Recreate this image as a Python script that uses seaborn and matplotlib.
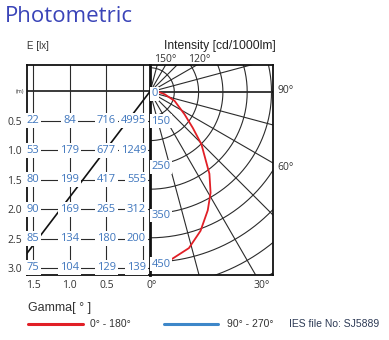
import numpy as np
import pandas as pd
import matplotlib
matplotlib.use("Agg")
import matplotlib.pyplot as plt
from matplotlib.lines import Line2D
import seaborn as sns

# ---------------- data ----------------
dist_m = [0.5, 1.0, 1.5, 2.0, 2.5, 3.0]          # mounting height rows
lateral_m = [1.5, 1.0, 0.5, 0.0]                 # columns
lux_at_1_5 = [22, 53, 80, 90, 85, 75]
lux_at_1_0 = [84, 179, 199, 169, 134, 104]
lux_at_0_5 = [716, 677, 417, 265, 180, 129]
lux_at_0_0 = [4995, 1249, 555, 312, 200, 139]
beam_lateral = [-0.095, 1.60]
beam_height = [0.0, 2.78]

gamma_deg = [0, 7, 14, 20, 26, 31, 36, 39, 44.5, 50, 57, 70, 81, 90]
intensity_c0 = [452, 448, 431, 404, 371, 342, 308, 283, 251, 215, 185, 154, 131, 118]

ring_values = [150, 200, 250, 300, 350, 400, 450, 500, 550, 600]
ring_labels = ["0", "150", "250", "350", "450"]
ring_label_vals = [100, 150, 250, 350, 450]
ray_angles = [15, 30, 45, 60, 75, 90, 105, 120, 135, 150, 165]
r_min = 100
px_per_cd = 0.486

x_tick_labels = ["1.5", "1.0", "0.5"]
row_labels = ["0.5", "1.0", "1.5", "2.0", "2.5", "3.0"]

# ---------------- style ----------------
sns.set_theme(style="white")
plt.rcParams['font.family'] = ['Open Sans', 'DejaVu Sans']

W, H = 389, 340
fig = plt.figure(figsize=(W / 100, H / 100), dpi=100)
fig.patch.set_facecolor("white")


def box(x0, y0, x1, y1):
    return [x0 / W, 1 - y1 / H, (x1 - x0) / W, (y1 - y0) / H]


def fx(x):
    return x / W


def fy(y):
    return 1 - y / H


GRID = "#2b2b2b"
NUM = "#3f76bd"
TXT = "#333333"
RED = "#e11f26"
BLUE = "#3d87c9"

# ---------------- left (illuminance) panel ----------------
axL = fig.add_axes(box(27, 65, 150, 275))
axL.set_xlim(1.582, -0.095)
axL.set_ylim(3.12, -0.45)
axL.set_facecolor("white")
for x in lateral_m:
    axL.axvline(x, color=GRID, lw=0.8, zorder=1)
for y in dist_m:
    axL.axhline(y, color=GRID, lw=0.8, zorder=1)
axL.axhline(0, color=GRID, lw=1.3, zorder=1)

sns.lineplot(x=beam_lateral, y=beam_height, ax=axL, color="#111111", lw=1.2,
             sort=False, estimator=None, zorder=2)

cols = [lux_at_1_5, lux_at_1_0, lux_at_0_5, lux_at_0_0]
bb = dict(boxstyle="square,pad=0.18", fc="white", ec="none")
for ci, (xc, vals) in enumerate(zip(lateral_m, cols)):
    for yv, v in zip(dist_m, vals):
        if ci == 3:
            axL.annotate(str(v), (xc, yv), xytext=(3, 0), textcoords="offset pixels",
                         ha="right", va="center", color=NUM, fontsize=8, bbox=bb, zorder=5)
        else:
            axL.annotate(str(v), (xc, yv), ha="center", va="center", color=NUM,
                         fontsize=8, bbox=bb, zorder=5)

axL.set_xticks(lateral_m[:3])
axL.set_xticklabels(x_tick_labels, fontsize=7.5, color=TXT)
axL.set_yticks(dist_m)
axL.set_yticklabels(row_labels, fontsize=7.5, color=TXT)
axL.tick_params(axis="both", length=0, pad=3.5)
axL.text(-0.02, 0, "(m)", transform=axL.get_yaxis_transform(), ha="right",
         va="center", fontsize=4, color=TXT)
for s in ["left", "top", "bottom"]:
    axL.spines[s].set_color("#111111")
    axL.spines[s].set_linewidth(1.3)
axL.spines["right"].set_visible(False)
axL.set_xlabel("")
axL.set_ylabel("")
if axL.get_legend():
    axL.get_legend().remove()

# ---------------- right (polar intensity) panel ----------------
axP = fig.add_axes(box(150, 65, 273, 275))
axP.set_facecolor("white")

t = np.linspace(0, np.pi, 361)
for rv in ring_values:
    rr = (rv - r_min) * px_per_cd
    sns.lineplot(x=rr * np.sin(t), y=-rr * np.cos(t), ax=axP, color=GRID, lw=0.8,
                 sort=False, estimator=None, zorder=1)
for a in ray_angles:
    g = np.deg2rad(a)
    R = 400
    sns.lineplot(x=[0, R * np.sin(g)], y=[0, -R * np.cos(g)], ax=axP, color=GRID,
                 lw=1.3 if a == 90 else 0.8, sort=False, estimator=None, zorder=1)

g = np.deg2rad(np.array(gamma_deg))
rr = (np.array(intensity_c0) - r_min) * px_per_cd
curve = pd.DataFrame({"x": rr * np.sin(g), "y": -rr * np.cos(g)})
sns.lineplot(data=curve, x="x", y="y", ax=axP, color=RED, lw=1.3, sort=False,
             estimator=None, zorder=3)
axP.set_xlim(0, 123)
axP.set_ylim(-183, 27)

for lab, v in zip(ring_labels, ring_label_vals):
    rr = (v - r_min) * px_per_cd
    dy = -5 if lab == "150" else -2
    axP.annotate(lab, (0, -rr), xytext=(1.5, dy), textcoords="offset pixels",
                 ha="left", va="center", color=NUM, fontsize=8,
                 bbox=dict(boxstyle="square,pad=0.12", fc="white", ec="none"), zorder=6)

for s in ["left", "top", "bottom", "right"]:
    axP.spines[s].set_color("#111111")
    axP.spines[s].set_linewidth(1.3)
axP.spines["left"].set_linewidth(2.0)
axP.set_xticks([])
axP.set_yticks([])
axP.set_xlabel("")
axP.set_ylabel("")

# angle labels
ang_kw = dict(fontsize=7.5, color=TXT, annotation_clip=False)
axP.annotate("0°", (0, -183), xytext=(2, -10), textcoords="offset pixels",
             ha="center", va="center", **ang_kw)
axP.annotate("30°", (183 * np.tan(np.deg2rad(30)), -183), xytext=(6, -10),
             textcoords="offset pixels", ha="center", va="center", **ang_kw)
axP.annotate("90°", (123, 0), xytext=(4, 1), textcoords="offset pixels",
             ha="left", va="center", **ang_kw)
axP.annotate("60°", (123, -123 / np.tan(np.deg2rad(60))), xytext=(4, -4),
             textcoords="offset pixels", ha="left", va="center", **ang_kw)
axP.annotate("150°", (27 * np.tan(np.deg2rad(30)), 27), xytext=(0, 6),
             textcoords="offset pixels", ha="center", va="center", **ang_kw)
axP.annotate("120°", (27 * np.tan(np.deg2rad(60)), 27), xytext=(2, 6),
             textcoords="offset pixels", ha="center", va="center", **ang_kw)

# ---------------- texts ----------------
fig.text(fx(5), fy(21.5), "Photometric", ha="left", va="baseline", fontsize=16,
         color="#3a44b8")
fig.text(fx(27), fy(46), "E [lx]", ha="left", va="center", fontsize=7,
         color=TXT, family=["Liberation Sans", "DejaVu Sans"])
fig.text(fx(219.5), fy(46.5), "Intensity [cd/1000lm]", ha="center", va="center",
         fontsize=8.7, color="#222222", family=["Liberation Sans", "DejaVu Sans"])

# legend
fig.text(fx(28), fy(308.5), "Gamma[ ° ]", ha="left", va="center", fontsize=9,
         color=TXT, family=["Liberation Sans", "DejaVu Sans"])
fig.add_artist(Line2D([fx(28.3), fx(82.7)], [fy(323.5), fy(323.5)], color=RED, lw=2.2))
fig.text(fx(90), fy(324), "0° - 180°", ha="left", va="center", fontsize=7.5, color=TXT,
         family=["Liberation Sans", "DejaVu Sans"])
fig.add_artist(Line2D([fx(164.3), fx(218.3)], [fy(323.5), fy(323.5)], color=BLUE, lw=2.2))
fig.text(fx(226.7), fy(324), "90° - 270°", ha="left", va="center", fontsize=7.5, color=TXT,
         family=["Liberation Sans", "DejaVu Sans"])
fig.text(fx(288.7), fy(324), "IES file No: SJ5889", ha="left", va="center", fontsize=7.5,
         color="#2d3a55", family=["Liberation Sans", "DejaVu Sans"])

fig.savefig("out.png", dpi=100, facecolor="white")
